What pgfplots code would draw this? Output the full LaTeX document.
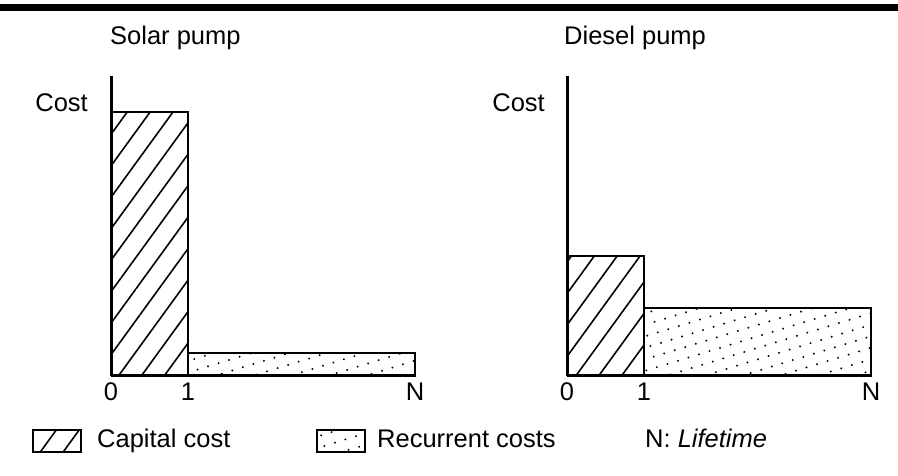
\documentclass[border=0pt]{standalone}
\usepackage{pgfplots}
\pgfplotsset{compat=1.18}
\usepackage{fontspec}
\setmainfont{Liberation Sans}
\usetikzlibrary{patterns.meta}

\tikzset{
  hatch/.style={pattern={Lines[angle=54,distance=18.5bp,line width=1.6bp]}, pattern color=black},
  stipple/.style={pattern={Dots[angle=17,distance=11bp,radius=1.1bp]}, pattern color=black},
  big/.style={font=\fontsize{25.5bp}{30bp}\selectfont, inner sep=0pt},
}
\pgfplotsset{panel/.style={
  scale only axis, width=304bp, height=300bp, anchor=south west,
  xmin=0, xmax=3.95, ymin=0, ymax=100,
  axis x line=bottom, axis y line=left,
  axis line style={line width=3bp,-},
  xtick={0,1,3.95}, xticklabels={0,1,N}, ytick=\empty,
  major tick length=0pt,
  tick label style={font=\fontsize{25.5bp}{30bp}\selectfont},
  xticklabel style={yshift=-3bp},
  /pgf/number format/assume math mode=true,
  clip=false,
}}

\begin{document}
\begin{tikzpicture}[x=1bp,y=1bp]
\useasboundingbox (0,0) rectangle (898,476);
% top rule
\draw[line width=6.5bp] (0,468.5) -- (898,468.5);

% Solar pump
\begin{axis}[panel, at={(111bp,100bp)}]
  \addplot[draw=black, line width=2.6bp, hatch, line join=miter]
    coordinates {(0,0) (0,88) (1,88) (1,0) (0,0)};
  \addplot[draw=black, line width=2.6bp, stipple, line join=miter]
    coordinates {(1,0) (1,7.7) (3.95,7.7) (3.95,0) (1,0)};
\end{axis}

% Diesel pump
\begin{axis}[panel, at={(567bp,100bp)}]
  \addplot[draw=black, line width=2.6bp, hatch, line join=miter]
    coordinates {(0,0) (0,40) (1,40) (1,0) (0,0)};
  \addplot[draw=black, line width=2.6bp, stipple, line join=miter]
    coordinates {(1,0) (1,22.7) (3.95,22.7) (3.95,0) (1,0)};
\end{axis}

% titles
\node[big, anchor=base west] at (110,431) {Solar pump};
\node[big, anchor=base west] at (564,431) {Diesel pump};
\node[big, anchor=base east] at (88,364) {Cost};
\node[big, anchor=base east] at (545,364) {Cost};

% legend
\draw[line width=2bp, hatch] (33,24) rectangle (81,46);
\node[big, anchor=base west] at (97,28) {Capital cost};
\draw[line width=2bp, stipple] (317,24) rectangle (365,46);
\node[big, anchor=base west] at (377,28) {Recurrent costs};
\node[big, anchor=base west] at (645,28) {N: \textit{Lifetime}};
\end{tikzpicture}
\end{document}
